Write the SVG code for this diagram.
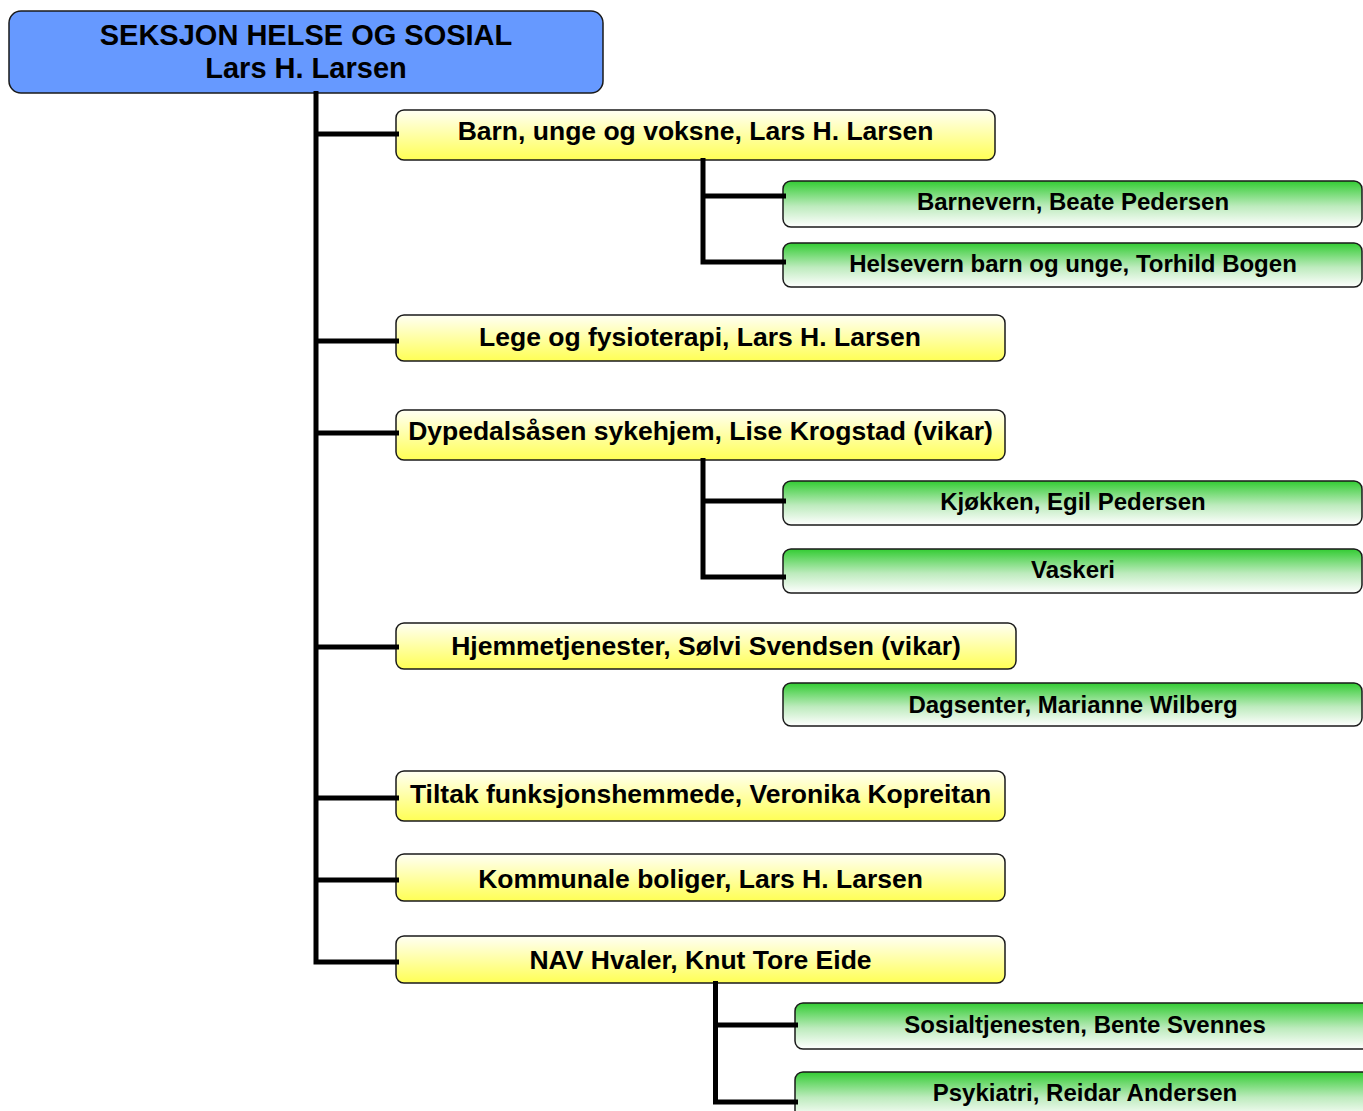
<svg xmlns="http://www.w3.org/2000/svg" width="1363" height="1111" viewBox="0 0 1363 1111">
<defs>
<linearGradient id="gy" x1="0" y1="0" x2="0" y2="1">
<stop offset="0" stop-color="#FFFFF4"/>
<stop offset="1" stop-color="#FFFF55"/>
</linearGradient>
<linearGradient id="gg" x1="0" y1="0" x2="0" y2="1">
<stop offset="0" stop-color="#33CC33"/>
<stop offset="0.55" stop-color="#BDEBBD"/>
<stop offset="1" stop-color="#FFFFFF"/>
</linearGradient>
<style>
.t{font-family:"Liberation Sans",Arial,sans-serif;font-weight:bold;fill:#000;text-anchor:middle}
.top{fill:#6699FF;stroke:#1a1a1a;stroke-width:1.5}
.y{fill:url(#gy);stroke:#1a1a1a;stroke-width:1.5}
.g{fill:url(#gg);stroke:#1a1a1a;stroke-width:1.5}
.ty{font-size:26.5px}
.tg{font-size:24px}
.tt{font-size:29px}
.c{fill:none;stroke:#000;stroke-width:5;stroke-linejoin:miter}
</style>
</defs>
<g id="n-top"><rect class="top" x="9" y="11" width="594" height="82" rx="12"/><text class="t tt" x="306" y="45">SEKSJON HELSE OG SOSIAL</text><text class="t tt" x="306" y="78">Lars H. Larsen</text></g>
<g id="n-barn"><rect class="y" x="396" y="110" width="599" height="50" rx="8"/><text class="t ty" x="695.5" y="140">Barn, unge og voksne, Lars H. Larsen</text></g>
<g id="n-barnevern"><rect class="g" x="783" y="181" width="579" height="46" rx="8"/><text class="t tg" x="1073" y="210">Barnevern, Beate Pedersen</text></g>
<g id="n-helsevern"><rect class="g" x="783" y="243" width="579" height="44" rx="8"/><text class="t tg" x="1073" y="272">Helsevern barn og unge, Torhild Bogen</text></g>
<g id="n-lege"><rect class="y" x="396" y="315" width="609" height="46" rx="8"/><text class="t ty" x="700" y="346">Lege og fysioterapi, Lars H. Larsen</text></g>
<g id="n-dyped"><rect class="y" x="396" y="410" width="609" height="50" rx="8"/><text class="t ty" x="700.5" y="440">Dypedalsåsen sykehjem, Lise Krogstad (vikar)</text></g>
<g id="n-kjokken"><rect class="g" x="783" y="481" width="579" height="44" rx="8"/><text class="t tg" x="1073" y="510">Kjøkken, Egil Pedersen</text></g>
<g id="n-vaskeri"><rect class="g" x="783" y="549" width="579" height="44" rx="8"/><text class="t tg" x="1073" y="578">Vaskeri</text></g>
<g id="n-hjem"><rect class="y" x="396" y="623" width="620" height="46" rx="8"/><text class="t ty" x="706" y="655">Hjemmetjenester, Sølvi Svendsen (vikar)</text></g>
<g id="n-dagsenter"><rect class="g" x="783" y="683" width="579" height="43" rx="8"/><text class="t tg" x="1073" y="713">Dagsenter, Marianne Wilberg</text></g>
<g id="n-tiltak"><rect class="y" x="396" y="771" width="609" height="50" rx="8"/><text class="t ty" x="700.5" y="803">Tiltak funksjonshemmede, Veronika Kopreitan</text></g>
<g id="n-kommunale"><rect class="y" x="396" y="854" width="609" height="47" rx="8"/><text class="t ty" x="700.5" y="888">Kommunale boliger, Lars H. Larsen</text></g>
<g id="n-nav"><rect class="y" x="396" y="936" width="609" height="47" rx="8"/><text class="t ty" x="700.5" y="969">NAV Hvaler, Knut Tore Eide</text></g>
<g id="n-sosial"><rect class="g" x="795" y="1003" width="580" height="46" rx="8"/><text class="t tg" x="1085" y="1033">Sosialtjenesten, Bente Svennes</text></g>
<g id="n-psyk"><rect class="g" x="795" y="1072" width="580" height="46" rx="8"/><text class="t tg" x="1085" y="1101">Psykiatri, Reidar Andersen</text></g>
<g id="connectors">
<path class="c" d="M316 91 V962 H399"/>
<path class="c" d="M316 134 H399"/>
<path class="c" d="M316 341 H399"/>
<path class="c" d="M316 433 H399"/>
<path class="c" d="M316 647 H399"/>
<path class="c" d="M316 798 H399"/>
<path class="c" d="M316 880 H399"/>
<path class="c" d="M703 158 V262 H786"/>
<path class="c" d="M703 196 H786"/>
<path class="c" d="M703 458 V577 H786"/>
<path class="c" d="M703 501 H786"/>
<path class="c" d="M715.5 981 V1102 H798"/>
<path class="c" d="M715.5 1025 H798"/>
</g>
</svg>
